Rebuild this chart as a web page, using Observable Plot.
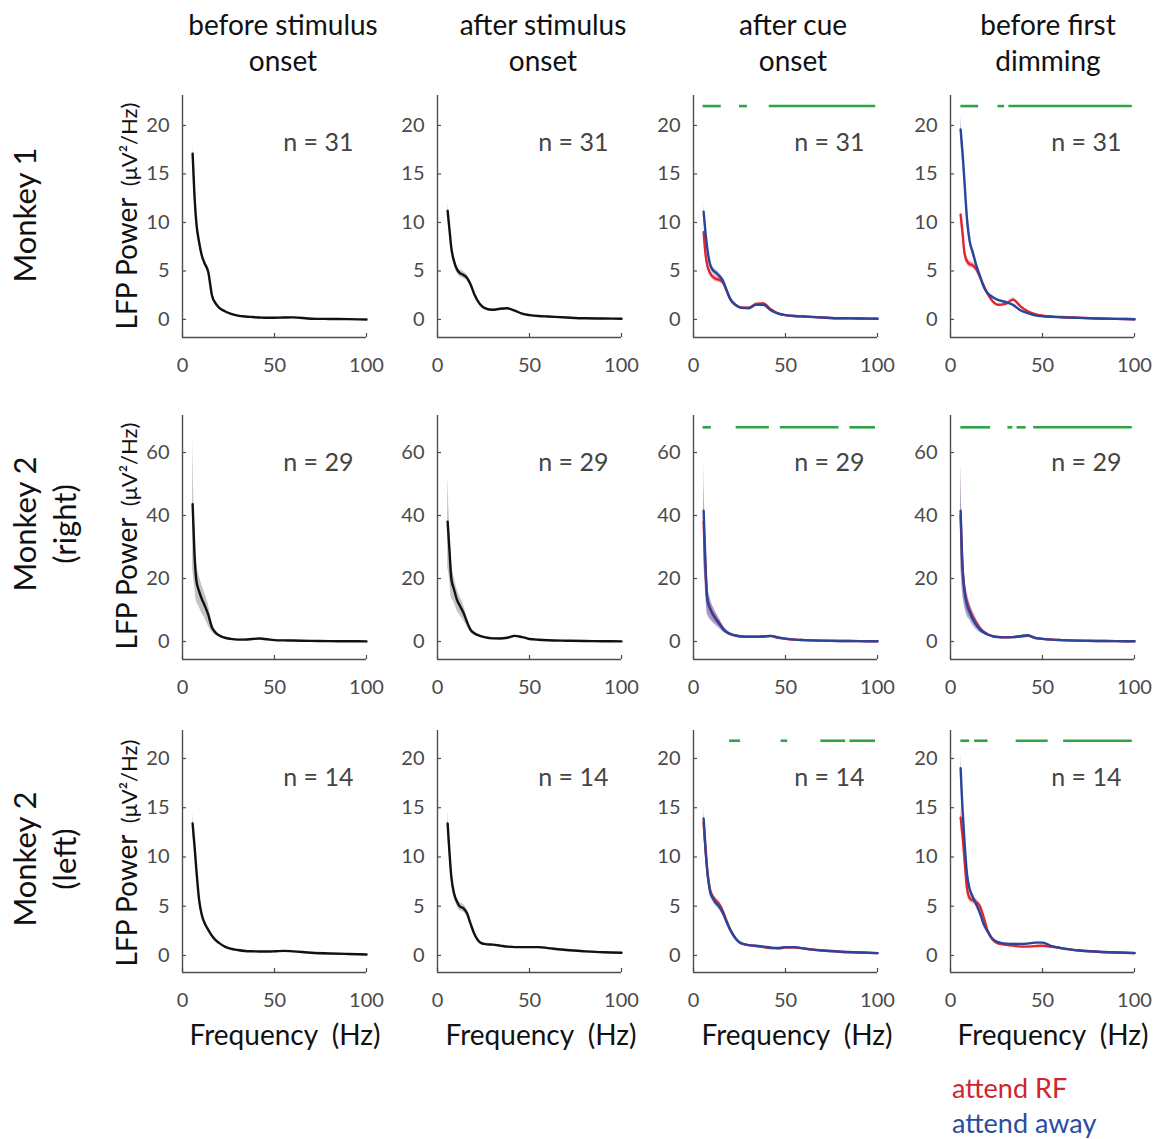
<!DOCTYPE html>
<html><head><meta charset="utf-8">
<script src="https://cdn.jsdelivr.net/npm/d3@7"></script>
<script src="https://cdn.jsdelivr.net/npm/@observablehq/plot@0.6"></script>
<style>
body{margin:0;background:#fff;}
#root{position:relative;width:1153px;height:1139px;overflow:hidden;background:#fff;}
#root svg{position:absolute;}
</style></head><body><div id="root"></div><script>
// ---------------- data ----------------
const freqs = [5.5, 6.5, 7.5, 9, 10.5, 12, 14, 16, 18, 20, 23, 26, 30, 34, 38, 42, 46, 50, 55, 60, 70, 80, 90, 100];

const columnTitles = [["before stimulus", "onset"], ["after stimulus", "onset"], ["after cue", "onset"], ["before first", "dimming"]];
const rowTitles = [["Monkey 1"], ["Monkey 2", "(right)"], ["Monkey 2", "(left)"]];
const nLabels = ["n = 31", "n = 29", "n = 14"];
const yTickValues = [[0, 5, 10, 15, 20], [0, 20, 40, 60], [0, 5, 10, 15, 20]];
const xTickValues = [0, 50, 100];
const sigLevel = [22, 68, 21.8];
const legendLabels = ["attend RF", "attend away"];

// Monkey 1
const m1StimPre     = [17.1, 12.8, 10.0, 8.0, 6.6, 5.8, 4.9, 2.5, 1.65, 1.2, 0.85, 0.6, 0.4, 0.3, 0.25, 0.2, 0.17, 0.17, 0.2, 0.22, 0.08, 0.05, 0.03, 0.0];
const m1StimPreSem  = [1.0, 0.6, 0.45, 0.35, 0.3, 0.3, 0.3, 0.2, 0.15, 0.1, 0.08, 0.06, 0.05, 0.05, 0.05, 0.05, 0.05, 0.05, 0.05, 0.05, 0.04, 0.04, 0.03, 0.03];
const m1StimPost    = [11.2, 9.3, 7.4, 6.0, 5.2, 4.8, 4.6, 4.3, 3.6, 2.6, 1.6, 1.15, 1.0, 1.1, 1.15, 0.9, 0.6, 0.45, 0.35, 0.3, 0.2, 0.12, 0.1, 0.08];
const m1StimPostSem = [0.8, 0.5, 0.4, 0.35, 0.35, 0.35, 0.35, 0.3, 0.2, 0.15, 0.1, 0.08, 0.06, 0.06, 0.06, 0.05, 0.05, 0.04, 0.04, 0.04, 0.03, 0.03, 0.03, 0.03];
const m1CueRF       = [9.0, 6.8, 5.6, 4.8, 4.4, 4.2, 4.1, 3.8, 3.0, 2.1, 1.45, 1.2, 1.2, 1.6, 1.65, 1.05, 0.62, 0.45, 0.35, 0.3, 0.2, 0.12, 0.1, 0.07];
const m1CueRFSem    = [0.5, 0.4, 0.35, 0.3, 0.3, 0.3, 0.3, 0.25, 0.2, 0.15, 0.1, 0.08, 0.08, 0.1, 0.1, 0.08, 0.05, 0.04, 0.04, 0.04, 0.03, 0.03, 0.03, 0.03];
const m1CueAway     = [11.1, 9.0, 7.3, 5.7, 5.1, 4.85, 4.5, 4.0, 3.0, 2.1, 1.5, 1.2, 1.15, 1.5, 1.5, 0.95, 0.6, 0.45, 0.35, 0.3, 0.2, 0.12, 0.1, 0.07];
const m1CueAwaySem  = [0.7, 0.5, 0.4, 0.35, 0.3, 0.3, 0.3, 0.25, 0.2, 0.15, 0.1, 0.08, 0.08, 0.1, 0.1, 0.08, 0.05, 0.04, 0.04, 0.04, 0.03, 0.03, 0.03, 0.03];
const m1DimRF       = [10.8, 9.0, 7.0, 6.0, 5.7, 5.6, 5.2, 4.4, 3.5, 2.7, 1.85, 1.5, 1.6, 2.05, 1.35, 0.85, 0.55, 0.4, 0.3, 0.25, 0.17, 0.1, 0.06, 0.02];
const m1DimRFSem    = [0.6, 0.5, 0.4, 0.35, 0.35, 0.35, 0.3, 0.25, 0.2, 0.15, 0.12, 0.12, 0.15, 0.2, 0.15, 0.08, 0.05, 0.04, 0.04, 0.04, 0.03, 0.03, 0.03, 0.03];
const m1DimAway     = [19.6, 17.3, 14.5, 10.3, 8.0, 7.0, 5.6, 4.5, 3.4, 2.75, 2.3, 2.0, 1.8, 1.5, 0.95, 0.65, 0.42, 0.33, 0.27, 0.22, 0.16, 0.1, 0.06, 0.02];
const m1DimAwaySem  = [1.3, 1.0, 0.8, 0.6, 0.45, 0.4, 0.35, 0.3, 0.2, 0.15, 0.12, 0.1, 0.1, 0.1, 0.08, 0.06, 0.05, 0.04, 0.04, 0.04, 0.03, 0.03, 0.03, 0.03];

// Monkey 2 (right)
const m2rStimPre     = [43.6, 28, 19.5, 16, 13.5, 11.5, 8.5, 4.5, 2.8, 1.9, 1.2, 0.85, 0.6, 0.6, 0.8, 0.95, 0.7, 0.45, 0.35, 0.3, 0.2, 0.12, 0.08, 0.05];
const m2rStimPreSem  = [20.6, 10, 6.5, 5, 4.5, 4, 3.5, 1.5, 0.8, 0.5, 0.3, 0.25, 0.2, 0.2, 0.2, 0.2, 0.15, 0.12, 0.1, 0.1, 0.08, 0.06, 0.05, 0.05];
const m2rStimPost    = [38, 29, 20, 16.5, 13.4, 11.5, 9.3, 6.3, 3.7, 2.6, 1.8, 1.3, 1.0, 0.95, 1.2, 1.8, 1.4, 0.8, 0.55, 0.4, 0.25, 0.15, 0.1, 0.05];
const m2rStimPostSem = [14.5, 9, 6, 4, 3.5, 3, 2.5, 1.5, 0.8, 0.5, 0.3, 0.25, 0.2, 0.2, 0.2, 0.2, 0.15, 0.12, 0.1, 0.1, 0.08, 0.06, 0.05, 0.05];
const m2rCueRF       = [38, 23, 13.5, 10.5, 8.8, 7.5, 6.0, 4.2, 3.0, 2.3, 1.8, 1.6, 1.5, 1.5, 1.6, 1.7, 1.2, 0.85, 0.6, 0.45, 0.28, 0.18, 0.12, 0.08];
const m2rCueRFSem    = [12, 7, 4, 3, 2.5, 2, 1.5, 1, 0.6, 0.4, 0.25, 0.2, 0.2, 0.2, 0.2, 0.2, 0.15, 0.12, 0.1, 0.08, 0.06, 0.05, 0.05, 0.05];
const m2rCueAway     = [41.5, 25, 13.5, 10.5, 8.6, 7.2, 5.6, 4.0, 3.0, 2.4, 1.9, 1.6, 1.5, 1.5, 1.6, 1.8, 1.3, 0.9, 0.6, 0.45, 0.28, 0.18, 0.12, 0.08];
const m2rCueAwaySem  = [15, 8, 5, 3.5, 2.5, 2, 1.5, 1, 0.6, 0.4, 0.25, 0.2, 0.2, 0.2, 0.2, 0.2, 0.15, 0.12, 0.1, 0.08, 0.06, 0.05, 0.05, 0.05];
const m2rDimRF       = [40, 24, 17, 12.5, 10, 8, 6, 4.3, 3.1, 2.3, 1.7, 1.45, 1.35, 1.4, 1.6, 1.8, 1.1, 0.85, 0.6, 0.45, 0.28, 0.18, 0.12, 0.08];
const m2rDimRFSem    = [16, 8, 5, 3.5, 2.5, 2, 1.5, 1, 0.6, 0.4, 0.25, 0.2, 0.2, 0.2, 0.2, 0.2, 0.15, 0.12, 0.1, 0.08, 0.06, 0.05, 0.05, 0.05];
const m2rDimAway     = [41.5, 24, 16.5, 11.5, 9.2, 7.2, 5.2, 3.8, 2.9, 2.3, 1.65, 1.4, 1.3, 1.4, 1.7, 2.0, 1.15, 0.85, 0.6, 0.45, 0.28, 0.18, 0.12, 0.08];
const m2rDimAwaySem  = [15, 8, 5, 3.5, 2.5, 2, 1.5, 1, 0.6, 0.4, 0.25, 0.2, 0.2, 0.2, 0.2, 0.2, 0.15, 0.12, 0.1, 0.08, 0.06, 0.05, 0.05, 0.05];

// Monkey 2 (left)
const m2lStimPre     = [13.4, 11.2, 8.8, 5.7, 4.1, 3.3, 2.6, 2.0, 1.55, 1.25, 0.9, 0.7, 0.55, 0.45, 0.42, 0.4, 0.4, 0.42, 0.47, 0.42, 0.28, 0.2, 0.15, 0.1];
const m2lStimPreSem  = [1.1, 0.6, 0.4, 0.3, 0.2, 0.15, 0.12, 0.1, 0.08, 0.06, 0.05, 0.05, 0.04, 0.04, 0.04, 0.04, 0.04, 0.04, 0.04, 0.04, 0.04, 0.04, 0.04, 0.04];
const m2lStimPost    = [13.4, 10.5, 8.0, 6.3, 5.5, 5.0, 4.8, 4.3, 3.2, 2.2, 1.35, 1.15, 1.1, 1.0, 0.9, 0.85, 0.85, 0.85, 0.85, 0.75, 0.55, 0.42, 0.32, 0.28];
const m2lStimPostSem = [1.3, 0.6, 0.45, 0.4, 0.4, 0.4, 0.4, 0.35, 0.25, 0.15, 0.1, 0.08, 0.07, 0.06, 0.06, 0.05, 0.05, 0.05, 0.05, 0.05, 0.05, 0.05, 0.05, 0.05];
const m2lCueRF       = [13.5, 10.8, 8.6, 6.7, 6.0, 5.6, 5.2, 4.5, 3.5, 2.6, 1.7, 1.22, 1.05, 0.95, 0.85, 0.75, 0.72, 0.8, 0.8, 0.7, 0.5, 0.38, 0.3, 0.24];
const m2lCueRFSem    = [1.0, 0.6, 0.45, 0.35, 0.3, 0.3, 0.3, 0.25, 0.2, 0.15, 0.1, 0.08, 0.07, 0.06, 0.06, 0.05, 0.05, 0.05, 0.05, 0.05, 0.04, 0.04, 0.04, 0.04];
const m2lCueAway     = [13.9, 11.0, 8.6, 6.5, 5.8, 5.35, 4.95, 4.3, 3.4, 2.6, 1.7, 1.22, 1.05, 0.98, 0.9, 0.8, 0.75, 0.85, 0.85, 0.7, 0.5, 0.38, 0.3, 0.24];
const m2lCueAwaySem  = [1.2, 0.6, 0.45, 0.35, 0.3, 0.3, 0.3, 0.25, 0.2, 0.15, 0.1, 0.08, 0.07, 0.06, 0.06, 0.05, 0.05, 0.05, 0.05, 0.05, 0.04, 0.04, 0.04, 0.04];
const m2lDimRF       = [14.0, 12.3, 10.0, 6.8, 5.8, 5.6, 5.4, 5.0, 3.9, 2.6, 1.6, 1.2, 1.08, 1.0, 0.9, 0.9, 0.95, 0.98, 0.88, 0.75, 0.5, 0.38, 0.3, 0.25];
const m2lDimRFSem    = [1.2, 0.8, 0.6, 0.4, 0.35, 0.35, 0.35, 0.3, 0.2, 0.15, 0.1, 0.08, 0.07, 0.06, 0.06, 0.05, 0.05, 0.05, 0.05, 0.05, 0.04, 0.04, 0.04, 0.04];
const m2lDimAway     = [19.0, 15.0, 11.9, 8.2, 6.7, 6.0, 5.2, 4.3, 3.2, 2.5, 1.65, 1.35, 1.2, 1.18, 1.18, 1.2, 1.3, 1.3, 0.95, 0.75, 0.5, 0.38, 0.3, 0.24];
const m2lDimAwaySem  = [1.6, 1.0, 0.7, 0.45, 0.35, 0.3, 0.3, 0.25, 0.2, 0.15, 0.1, 0.08, 0.07, 0.06, 0.06, 0.06, 0.06, 0.06, 0.05, 0.05, 0.04, 0.04, 0.04, 0.04];

// significance segments (Hz ranges)
const m1CueSig  = [[5.2, 15.1], [25, 29.3], [41.2, 99]];
const m1DimSig  = [[5.6, 15.3], [25.8, 29.4], [31.7, 98.8]];
const m2rCueSig = [[5.2, 9.7], [23.2, 41.2], [47.2, 79.1], [85, 98.9]];
const m2rDimSig = [[5.6, 21.8], [31.2, 33.9], [36.2, 41.1], [45.2, 98.8]];
const m2lCueSig = [[19.6, 25.6], [47.6, 51.2], [69.2, 82.7], [85, 98.9]];
const m2lDimSig = [[5.6, 10.4], [13.1, 20.4], [35.7, 53.1], [61.5, 98.8]];

// ---------------- layout & style ----------------
const FONT = "Lato, 'Open Sans', sans-serif";
const colX0 = [182, 437, 693, 950];
const frameW = 184;
const rowTop = [95, 415, 730];
const frameH = [242, 244, 242];
const yDomains = [[-1.86, 23.09], [-5.71, 71.75], [-1.73, 22.84]];
const mL = 70, mR = 14, mT = 12, mB = 50;
const GREEN = "#2fa447";
const AXIS = "#4d4d4d";
const styles = {
  all:  {line: "#111111", band: "#8a8a8a", op: 0.5},
  rf:   {line: "#e3242b", band: "#e8333a", op: 0.35},
  away: {line: "#2a469c", band: "#3f5fbf", op: 0.4}
};

const panels = [
  [[["all", m1StimPre, m1StimPreSem]], [["all", m1StimPost, m1StimPostSem]],
   [["rf", m1CueRF, m1CueRFSem], ["away", m1CueAway, m1CueAwaySem]],
   [["rf", m1DimRF, m1DimRFSem], ["away", m1DimAway, m1DimAwaySem]]],
  [[["all", m2rStimPre, m2rStimPreSem]], [["all", m2rStimPost, m2rStimPostSem]],
   [["rf", m2rCueRF, m2rCueRFSem], ["away", m2rCueAway, m2rCueAwaySem]],
   [["rf", m2rDimRF, m2rDimRFSem], ["away", m2rDimAway, m2rDimAwaySem]]],
  [[["all", m2lStimPre, m2lStimPreSem]], [["all", m2lStimPost, m2lStimPostSem]],
   [["rf", m2lCueRF, m2lCueRFSem], ["away", m2lCueAway, m2lCueAwaySem]],
   [["rf", m2lDimRF, m2lDimRFSem], ["away", m2lDimAway, m2lDimAwaySem]]]
];
const sigs = [[null, null, m1CueSig, m1DimSig], [null, null, m2rCueSig, m2rDimSig], [null, null, m2lCueSig, m2lDimSig]];

const root = document.getElementById("root");

for (let r = 0; r < 3; r++) {
  for (let c = 0; c < 4; c++) {
    const marks = [];
    for (const [kind, means, sems] of panels[r][c]) {
      const st = styles[kind];
      const rows = freqs.map((f, i) => ({f, m: means[i], lo: means[i] - sems[i], hi: means[i] + sems[i]}));
      marks.push(Plot.areaY(rows, {x: "f", y1: "lo", y2: "hi", fill: st.band, fillOpacity: st.op, curve: "monotone-x"}));
      marks.push(Plot.lineY(rows, {x: "f", y: "m", stroke: st.line, strokeWidth: 2.4, curve: "monotone-x"}));
    }
    if (sigs[r][c]) {
      marks.push(Plot.ruleY(sigs[r][c], {x1: d => d[0], x2: d => d[1], y: () => sigLevel[r], stroke: GREEN, strokeWidth: 2.6}));
    }
    marks.push(Plot.text([nLabels[r]], {text: d => d, frameAnchor: "top-right", dx: -13, dy: 47, textAnchor: "end", lineAnchor: "middle", fontSize: 25, fill: "#444"}));
    // axis lines (MATLAB-style: left + bottom)
    marks.push(Plot.ruleX([0], {stroke: AXIS, strokeWidth: 1.4}));
    marks.push(Plot.ruleY([yDomains[r][0]], {stroke: AXIS, strokeWidth: 1.4}));
    // tick labels
    marks.push(Plot.axisY({ticks: yTickValues[r], tickSize: 0, tickPadding: 13, tickFormat: d => String(d), label: null, fontSize: 20, stroke: AXIS, fill: "#4a4a4a"}));
    marks.push(Plot.axisX({ticks: xTickValues, tickSize: 0, tickPadding: 20, tickFormat: d => String(d), label: null, fontSize: 20, stroke: AXIS, fill: "#4a4a4a"}));
    // inward tick marks
    marks.push(Plot.axisY({ticks: yTickValues[r], tickSize: 4, dx: 4, tickFormat: () => "", label: null, stroke: AXIS, strokeWidth: 1.2}));
    marks.push(Plot.axisX({ticks: xTickValues, tickSize: 4, dy: -4, tickFormat: () => "", label: null, stroke: AXIS, strokeWidth: 1.2}));

    const svg = Plot.plot({
      width: mL + frameW + mR,
      height: mT + frameH[r] + mB,
      marginLeft: mL, marginRight: mR, marginTop: mT, marginBottom: mB,
      style: {background: "transparent", fontFamily: FONT, overflow: "visible"},
      x: {domain: [0, 100]},
      y: {domain: yDomains[r]},
      marks
    });
    svg.style.left = (colX0[c] - mL) + "px";
    svg.style.top = (rowTop[r] - mT) + "px";
    root.appendChild(svg);
  }
}

// ---------------- overlay text ----------------
const ov = d3.select(root).append("svg")
  .attr("width", 1153).attr("height", 1139)
  .style("left", "0px").style("top", "0px").style("pointer-events", "none")
  .style("font-family", FONT);

const titleX = [283, 543, 793, 1048];
const titleBase = [35, 71];
columnTitles.forEach((lines, c) => {
  lines.forEach((t, i) => {
    ov.append("text").attr("x", titleX[c]).attr("y", titleBase[i])
      .attr("text-anchor", "middle").attr("font-size", 28).attr("fill", "#111").text(t);
  });
});

const rowCenter = [215, 524, 859];
const rowBase = [36, 76];
rowTitles.forEach((lines, r) => {
  lines.forEach((t, i) => {
    ov.append("text").attr("transform", `translate(${rowBase[i]},${rowCenter[r]}) rotate(-90)`)
      .attr("text-anchor", "middle").attr("font-size", 31).attr("fill", "#111").text(t);
  });
});

const yLabCenter = [216, 536, 853];
yLabCenter.forEach(cy => {
  const t = ov.append("text").attr("transform", `translate(137,${cy}) rotate(-90)`)
    .attr("text-anchor", "middle").attr("fill", "#111").style("white-space", "pre");
  t.append("tspan").attr("font-size", 28).text("LFP Power");
  t.append("tspan").attr("font-size", 22).text("  (μV²/Hz)");
});

const xLabX = [285, 541, 797, 1053];
xLabX.forEach(cx => {
  ov.append("text").attr("x", cx).attr("y", 1045).attr("text-anchor", "middle")
    .attr("font-size", 28).attr("fill", "#111").style("white-space", "pre").text("Frequency  (Hz)");
});

ov.append("text").attr("x", 952).attr("y", 1098).attr("font-size", 27).attr("fill", "#d0252b").text(legendLabels[0]);
ov.append("text").attr("x", 952).attr("y", 1133).attr("font-size", 27).attr("fill", "#2b4c9e").text(legendLabels[1]);
</script></body></html>
